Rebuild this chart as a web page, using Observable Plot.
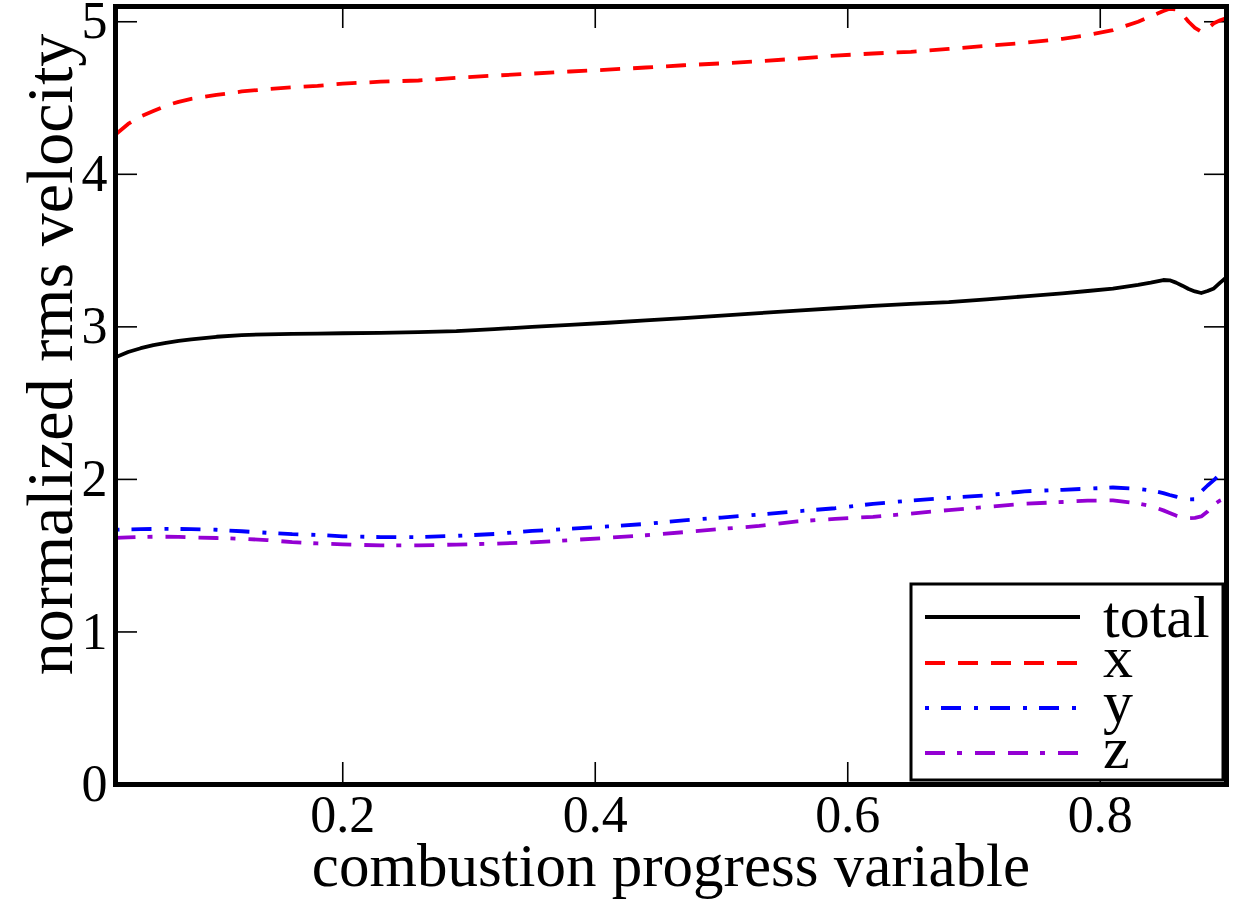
<!DOCTYPE html>
<html>
<head>
<meta charset="utf-8">
<script src="https://cdn.jsdelivr.net/npm/d3@7"></script>
<script src="https://cdn.jsdelivr.net/npm/@observablehq/plot@0.6"></script>
<style>
  html, body { margin: 0; padding: 0; background: #fff; }
  #chart { width: 1238px; height: 907px; }
</style>
</head>
<body>
<div id="chart"></div>
<script>
// combustion progress variable (sample positions)
const progress = [0.02, 0.03, 0.04, 0.05, 0.06, 0.07, 0.08, 0.10, 0.12, 0.14, 0.16, 0.18, 0.20,
  0.23, 0.26, 0.29, 0.32, 0.35, 0.38, 0.41, 0.44, 0.47, 0.50, 0.53, 0.56, 0.59, 0.62, 0.65,
  0.68, 0.71, 0.74, 0.77, 0.79, 0.81, 0.83, 0.84, 0.85, 0.855, 0.86, 0.865, 0.87, 0.875,
  0.88, 0.885, 0.89, 0.895, 0.90];

// normalized rms velocity: total and x / y / z components
const totalRms = [2.800, 2.835, 2.860, 2.880, 2.895, 2.908, 2.918, 2.935, 2.946, 2.951, 2.954, 2.956, 2.958,
  2.961, 2.965, 2.972, 2.985, 3.000, 3.013, 3.027, 3.042, 3.057, 3.073, 3.090, 3.107, 3.122, 3.138, 3.150,
  3.162, 3.180, 3.200, 3.220, 3.235, 3.250, 3.275, 3.290, 3.307, 3.305, 3.290, 3.270, 3.248, 3.232,
  3.222, 3.235, 3.252, 3.290, 3.325];
const xRms = [4.260, 4.330, 4.380, 4.415, 4.450, 4.475, 4.495, 4.520, 4.543, 4.558, 4.570, 4.580, 4.594,
  4.607, 4.615, 4.632, 4.647, 4.660, 4.674, 4.686, 4.700, 4.715, 4.727, 4.741, 4.758, 4.778, 4.792, 4.803,
  4.822, 4.842, 4.862, 4.888, 4.912, 4.945, 5.000, 5.035, 5.070, 5.085, 5.080, 5.050, 5.000, 4.960,
  4.935, 4.955, 4.990, 5.010, 5.025];
const yRms = [1.670, 1.672, 1.674, 1.675, 1.676, 1.675, 1.674, 1.670, 1.660, 1.650, 1.641, 1.636, 1.627,
  1.622, 1.622, 1.630, 1.642, 1.662, 1.676, 1.692, 1.708, 1.732, 1.750, 1.770, 1.791, 1.811, 1.840, 1.861,
  1.879, 1.895, 1.922, 1.932, 1.939, 1.947, 1.938, 1.928, 1.910, 1.898, 1.887, 1.876, 1.869, 1.870,
  1.920, 1.960, 1.995, 2.035, 2.070];
const zRms = [1.617, 1.620, 1.623, 1.624, 1.624, 1.623, 1.620, 1.616, 1.611, 1.602, 1.589, 1.580, 1.574,
  1.567, 1.567, 1.573, 1.579, 1.587, 1.602, 1.617, 1.634, 1.654, 1.675, 1.695, 1.725, 1.741, 1.755, 1.776,
  1.799, 1.820, 1.840, 1.852, 1.861, 1.862, 1.842, 1.826, 1.797, 1.780, 1.763, 1.752, 1.746, 1.748,
  1.757, 1.790, 1.835, 1.862, 1.880];

const seriesNames = ["total", "x", "y", "z"];
const xTicks = [0.2, 0.4, 0.6, 0.8];
const yTicks = [0, 1, 2, 3, 4, 5];
const xLabel = "combustion progress variable";
const yLabel = "normalized rms velocity";

// stroke styles per series
const seriesStyle = {
  total: { stroke: "#000000", dash: null },
  x:     { stroke: "#ff0000", dash: "20,13" },
  y:     { stroke: "#0000ff", dash: "4,12,20,13" },
  z:     { stroke: "#9400d3", dash: "20,12,5,13,20,13" }
};

const valuesByName = { total: totalRms, x: xRms, y: yRms, z: zRms };
const table = Object.fromEntries(seriesNames.map(name =>
  [name, progress.map((c, i) => ({ c, v: valuesByName[name][i] }))]));

const W = 1238, H = 907;
const margin = { top: 6, right: 12, bottom: 123, left: 115 };
const plotW = W - margin.left - margin.right;
const plotH = H - margin.top - margin.bottom;
const tickLen = 22;
const font = "'Liberation Serif', 'Times New Roman', serif";

const tickStyle = { stroke: "#000", strokeWidth: 1.6 };

const chart = Plot.plot({
  width: W,
  height: H,
  marginTop: margin.top,
  marginRight: margin.right,
  marginBottom: margin.bottom,
  marginLeft: margin.left,
  style: { fontFamily: font, background: "#fff", color: "#000", overflow: "visible" },
  x: { domain: [0.02, 0.9] },
  y: { domain: [0, 5.1] },
  marks: [
    // inward ticks on all four sides
    Plot.ruleY(yTicks, { ...tickStyle, insetRight: plotW - tickLen }),
    Plot.ruleY(yTicks, { ...tickStyle, insetLeft: plotW - tickLen }),
    Plot.ruleX(xTicks, { ...tickStyle, insetTop: plotH - tickLen }),
    Plot.ruleX(xTicks, { ...tickStyle, insetBottom: plotH - tickLen }),
    ...seriesNames.map(name => Plot.line(table[name], {
      x: "c", y: "v",
      stroke: seriesStyle[name].stroke,
      strokeWidth: 3.8,
      strokeDasharray: seriesStyle[name].dash,
      strokeLinecap: "butt",
      strokeLinejoin: "round",
      clip: true
    })),
    Plot.frame({ stroke: "#000", strokeWidth: 5 }),
    Plot.axisX({ ticks: xTicks, tickSize: 0, tickPadding: 11, fontSize: 52, label: null, tickFormat: d => String(d) }),
    Plot.axisY({ ticks: yTicks, tickSize: 0, tickPadding: 8, fontSize: 52, label: null, tickFormat: d => String(d) }),
    Plot.text([xLabel], { frameAnchor: "bottom", lineAnchor: "middle", textAnchor: "middle", dy: 82, fontSize: 61, fill: "#000" }),
    Plot.text([yLabel], { frameAnchor: "left", lineAnchor: "middle", textAnchor: "middle", rotate: -90, dx: -65, dy: -41, fontSize: 66, fill: "#000" })
  ]
});

// legend box in the lower-right corner of the frame
const legend = {
  width: 312, height: 196,
  rowY: [33, 79, 124, 169],
  textShift: [20, 14, 14, 15],
  lineX: [14, 169],
  textX: 192
};
const svg = d3.select(chart);
const lx = W - margin.right - 3 - legend.width;
const ly = H - margin.bottom - 4 - legend.height;
const g = svg.append("g").attr("transform", `translate(${lx},${ly})`);
g.append("rect")
  .attr("width", legend.width).attr("height", legend.height)
  .attr("fill", "#fff").attr("stroke", "#000").attr("stroke-width", 3);
seriesNames.forEach((name, i) => {
  const y = legend.rowY[i];
  g.append("line")
    .attr("x1", legend.lineX[0]).attr("x2", legend.lineX[1])
    .attr("y1", y).attr("y2", y)
    .attr("stroke", seriesStyle[name].stroke)
    .attr("stroke-width", 4)
    .attr("stroke-dasharray", seriesStyle[name].dash)
    .attr("stroke-linecap", "butt");
  g.append("text")
    .attr("x", legend.textX).attr("y", y + legend.textShift[i])
    .attr("text-anchor", "start")
    .attr("font-family", font).attr("font-size", 60)
    .attr("fill", "#000")
    .text(name);
});

document.getElementById("chart").appendChild(chart);
</script>
</body>
</html>
